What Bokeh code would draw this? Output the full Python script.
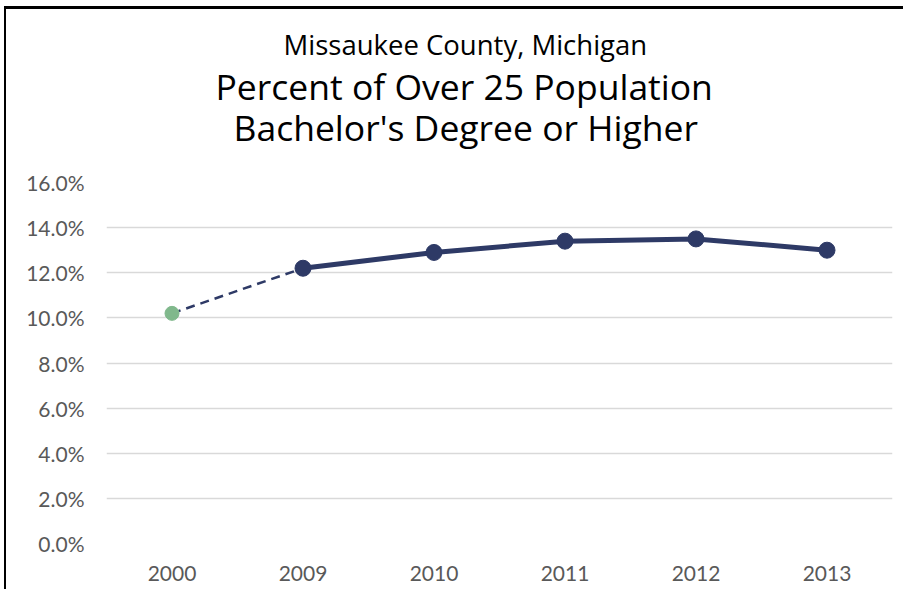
from bokeh.plotting import figure
from bokeh.models import (Title, FixedTicker, PrintfTickFormatter, ColumnDataSource,
                          Range1d, FactorRange, InlineStyleSheet)
from bokeh.embed import file_html
from bokeh.resources import INLINE

# ---- data ----
years = ["2000", "2009", "2010", "2011", "2012", "2013"]
values = [10.2, 12.2, 12.9, 13.4, 13.5, 13.0]
y_ticks = [0, 2, 4, 6, 8, 10, 12, 14, 16]
title_lines = ["Missaukee County, Michigan",
               "Percent of Over 25 Population",
               "Bachelor's Degree or Higher"]

NAVY = "#2E3A66"
GREEN = "#80B88C"
FONT = "Lato"
TFONT = "Open Sans"

border_css = InlineStyleSheet(css="""
:host { position: relative; }
:host::after { content: ""; position: absolute; left: 4px; top: 6px;
  width: calc(100% - 4px); height: calc(100% - 6px); box-sizing: border-box;
  border-left: 2px solid black; border-top: 3px solid black; pointer-events: none; }
""")

p = figure(x_range=FactorRange(*years, range_padding=0), y_range=Range1d(0, 16),
           width=903, height=589, output_backend="svg", toolbar_location=None,
           min_border_left=106, min_border_right=11, min_border_top=182,
           min_border_bottom=46, stylesheets=[border_css])
p.title = None
p.outline_line_color = None
p.background_fill_color = "white"
p.border_fill_color = "white"

# spacer between plot area and title block
p.add_layout(Title(text=" ", text_font=TFONT, text_font_size="10px", standoff=20), "above")
# titles (added from closest-to-plot outward)
p.add_layout(Title(text=title_lines[2], text_font=TFONT, text_font_size="35.5px",
                   text_font_style="normal", text_color="black", align="left",
                   offset=127, standoff=-9), "above")
p.add_layout(Title(text=title_lines[1], text_font=TFONT, text_font_size="35.5px",
                   text_font_style="normal", text_color="black", align="left",
                   offset=109, standoff=-9), "above")
p.add_layout(Title(text=title_lines[0], text_font=TFONT, text_font_size="27.5px",
                   text_font_style="normal", text_color="black", align="left",
                   offset=177, standoff=4), "above")

# axes
p.yaxis.ticker = FixedTicker(ticks=y_ticks)
p.yaxis.formatter = PrintfTickFormatter(format="%.1f%%")
for ax in (p.xaxis[0], p.yaxis[0]):
    ax.axis_line_color = None
    ax.major_tick_line_color = None
    ax.minor_tick_line_color = None
    ax.major_tick_out = 0
    ax.major_tick_in = 0
    ax.major_label_text_font = FONT
    ax.major_label_text_font_size = "21px"
    ax.major_label_text_color = "#595959"
p.yaxis.major_label_standoff = 22
p.xaxis.major_label_standoff = 22

p.xgrid.grid_line_color = None
p.ygrid.grid_line_color = "#D9D9D9"
p.ygrid.grid_line_width = 1.5

# dashed segment 2000 -> 2009
dash_src = ColumnDataSource(dict(x=years[0:2], y=values[0:2]))
p.line("x", "y", source=dash_src, line_color=NAVY, line_width=2.5, line_dash="9 6")

# solid line 2009 -> 2013
solid_src = ColumnDataSource(dict(x=years[1:], y=values[1:]))
p.line("x", "y", source=solid_src, line_color=NAVY, line_width=5)
p.scatter("x", "y", source=solid_src, size=16, fill_color=NAVY, line_color=NAVY)

first_src = ColumnDataSource(dict(x=years[0:1], y=values[0:1]))
p.scatter("x", "y", source=first_src, size=14, fill_color=GREEN, line_color=GREEN)

open("out.html", "w").write(file_html(p, INLINE))
